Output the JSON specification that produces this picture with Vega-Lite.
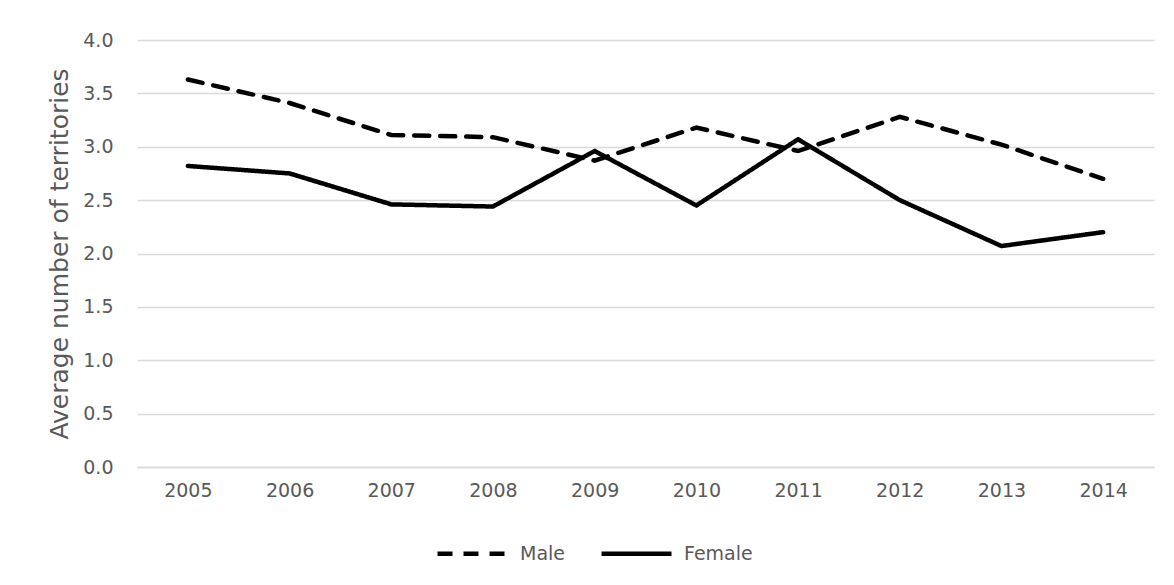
{
  "$schema": "https://vega.github.io/schema/vega-lite/v6.json",
  "width": 1017,
  "height": 427,
  "autosize": {"type": "none"},
  "padding": {"left": 137, "top": 40, "right": 20, "bottom": 118},
  "background": "white",
  "config": {
    "view": {"stroke": null},
    "font": "DejaVu Sans",
    "axis": {"labelFont": "DejaVu Sans", "titleFont": "DejaVu Sans", "labelColor": "#595959", "titleColor": "#595959"}
  },
  "data": {
    "values": [
      {"year": "2005", "sex": "Male", "value": 3.63},
      {"year": "2006", "sex": "Male", "value": 3.41},
      {"year": "2007", "sex": "Male", "value": 3.11},
      {"year": "2008", "sex": "Male", "value": 3.09},
      {"year": "2009", "sex": "Male", "value": 2.87},
      {"year": "2010", "sex": "Male", "value": 3.18},
      {"year": "2011", "sex": "Male", "value": 2.96},
      {"year": "2012", "sex": "Male", "value": 3.28},
      {"year": "2013", "sex": "Male", "value": 3.02},
      {"year": "2014", "sex": "Male", "value": 2.70},
      {"year": "2005", "sex": "Female", "value": 2.82},
      {"year": "2006", "sex": "Female", "value": 2.75},
      {"year": "2007", "sex": "Female", "value": 2.46},
      {"year": "2008", "sex": "Female", "value": 2.44},
      {"year": "2009", "sex": "Female", "value": 2.96},
      {"year": "2010", "sex": "Female", "value": 2.45},
      {"year": "2011", "sex": "Female", "value": 3.07},
      {"year": "2012", "sex": "Female", "value": 2.50},
      {"year": "2013", "sex": "Female", "value": 2.07},
      {"year": "2014", "sex": "Female", "value": 2.20}
    ]
  },
  "mark": {"type": "line", "color": "black", "strokeWidth": 4.5, "strokeCap": "round", "strokeJoin": "miter"},
  "encoding": {
    "x": {
      "field": "year", "type": "ordinal",
      "scale": {"type": "point", "padding": 0.5},
      "axis": {
        "title": null, "labelAngle": 0, "labelFontSize": 19, "labelPadding": 14,
        "ticks": false, "domain": true, "domainColor": "#d9d9d9", "domainWidth": 1.5, "grid": false
      }
    },
    "y": {
      "field": "value", "type": "quantitative",
      "scale": {"domain": [0, 4], "nice": false},
      "axis": {
        "title": "Average number of territories", "titleFontSize": 25, "titleFontWeight": "normal",
        "titlePadding": 10, "values": [0, 0.5, 1, 1.5, 2, 2.5, 3, 3.5, 4], "format": ".1f",
        "labelFontSize": 19, "labelPadding": 24, "ticks": false, "domain": false,
        "grid": true, "gridColor": "#d9d9d9", "gridWidth": 1.5
      }
    },
    "strokeDash": {
      "field": "sex", "type": "nominal",
      "scale": {"domain": ["Male", "Female"], "range": [[15, 11], [1, 0]]},
      "legend": {
        "title": null, "orient": "none", "direction": "horizontal",
        "legendX": 298, "legendY": 476,
        "symbolType": "stroke", "symbolSize": 4900, "symbolStrokeWidth": 4.5,
        "symbolStrokeColor": "black", "labelFontSize": 19, "labelColor": "#595959",
        "labelFont": "DejaVu Sans", "labelOffset": 10, "columnPadding": 26
      }
    }
  }
}
